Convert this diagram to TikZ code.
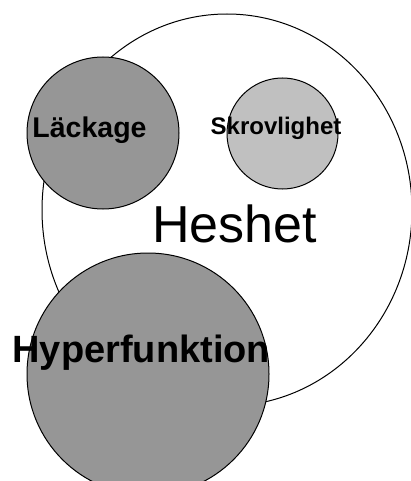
\documentclass[tikz,border=0pt]{standalone}
\usepackage{fontspec}
\setmainfont{Liberation Sans}
\usetikzlibrary{shapes.geometric}
\definecolor{darkfill}{RGB}{150,150,150}
\definecolor{lightfill}{RGB}{192,192,192}
\tikzset{
  blob/.style={circle, draw=black, line width=1pt, inner sep=0pt, minimum size=#1},
  boldlabel/.style={anchor=base, inner sep=0pt, font=\bfseries\fontsize{#1}{#1}\selectfont},
}
\begin{document}
\begin{tikzpicture}[x=1pt,y=-1pt]
\useasboundingbox (0,0) rectangle (411,481);
\node[ellipse, draw=black, fill=white, line width=1pt, inner sep=0pt,
      minimum width=370pt, minimum height=392pt] (heshet) at (227,210) {};
\node[blob=152pt, fill=darkfill] (lackage) at (103,133) {};
\node[blob=111pt, fill=lightfill] (skrov) at (282.5,133.5) {};
\node[blob=242pt, fill=darkfill] (hyper) at (148,374) {};
\node[boldlabel=28.5pt] (tl) at (89.5,137.5) {Läckage};
\node[boldlabel=24pt] (ts) at (276,134.3) {Skrovlighet};
\node[anchor=base, inner sep=0pt, font=\fontsize{52pt}{52pt}\selectfont] (th) at (234.5,242.7) {Heshet};
\node[boldlabel=38pt] (thy) at (141.3,362.5) {Hyperfunktion};
\end{tikzpicture}
\end{document}
